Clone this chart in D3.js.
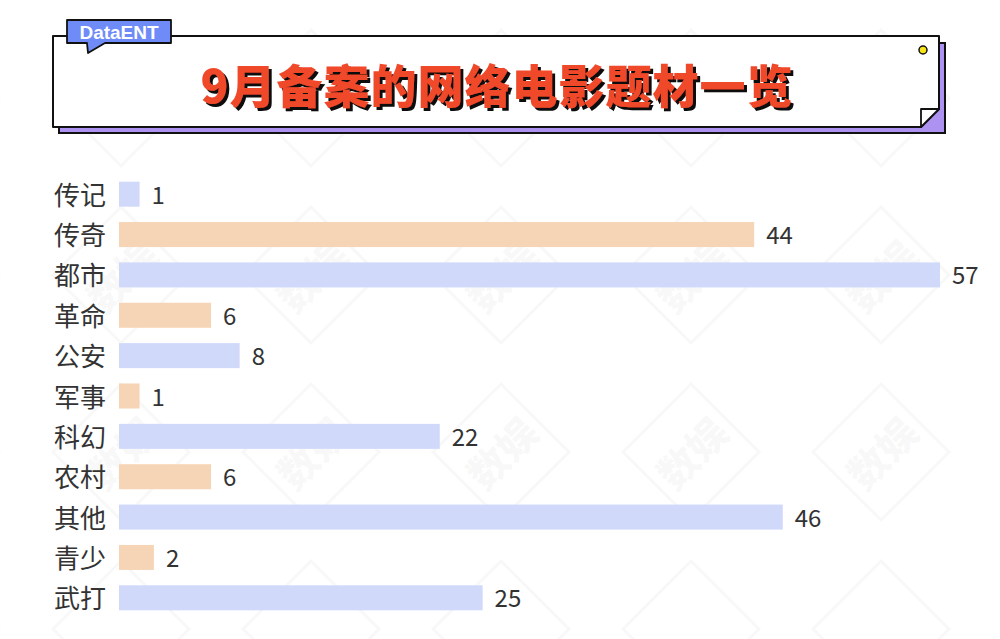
<!DOCTYPE html>
<html><head><meta charset="utf-8">
<script src="https://cdn.jsdelivr.net/npm/d3@7/dist/d3.min.js"></script>
<style>html,body{margin:0;padding:0;background:#fff;}svg{display:block;}</style>
</head><body>
<svg id="c" width="1000" height="639"></svg>
<script>
const categories = ["传记","传奇","都市","革命","公安","军事","科幻","农村","其他","青少","武打"];
const values = [1,44,57,6,8,1,22,6,46,2,25];
const titleText = "9月备案的网络电影题材一览";
const tagText = "DataENT";
const barColors = ["#d1d9fb","#f6d5b6"];
const watermarkText = "数娱";

const svg = d3.select("#c");
const FONT = "'Noto Sans CJK SC','Noto Sans',sans-serif";

const defs = svg.append("defs");
const f = defs.append("filter").attr("id","tshadow").attr("x","-5%").attr("y","-20%").attr("width","110%").attr("height","150%");
f.append("feOffset").attr("in","SourceAlpha").attr("dx",3).attr("dy",3).attr("result","off");
f.append("feFlood").attr("flood-color","#111").attr("result","fl");
f.append("feComposite").attr("in","fl").attr("in2","off").attr("operator","in").attr("result","sh");
const m = f.append("feMerge");
m.append("feMergeNode").attr("in","sh");
m.append("feMergeNode").attr("in","SourceGraphic");

// ---- watermark (behind) ----
const wm = svg.append("g").attr("pointer-events","none");
const cols = [-69,121,311,501,691,881,1071];
const rows = [98,275,452,629];
rows.forEach(cy=>cols.forEach(cx=>{
  const t = wm.append("g").attr("transform",`translate(${cx},${cy})`);
  t.append("path").attr("d","M0,-68 L68,0 L0,68 L-68,0 Z").attr("fill","none")
    .attr("stroke","#999").attr("stroke-opacity",0.07).attr("stroke-width",3);
  if (cx > 0 && cx < 1000 && cy > 150 && cy < 600) {
    t.append("text").attr("transform","rotate(-45)").attr("text-anchor","middle")
      .attr("dominant-baseline","central").attr("font-family",FONT).attr("font-weight",900)
      .attr("font-size",40).attr("fill","#999").attr("fill-opacity",0.06).text(watermarkText);
  }
}));

// ---- header ----
const hdr = svg.append("g");
hdr.append("rect").attr("x",59).attr("y",43).attr("width",886).attr("height",90)
  .attr("fill","#ad92f1").attr("stroke","#111").attr("stroke-width",2);
hdr.append("path").attr("d","M53,36 H939 V109 L921,127 H53 Z")
  .attr("fill","#fff").attr("stroke","#111").attr("stroke-width",2).attr("stroke-linejoin","round");
hdr.append("path").attr("d","M921,109 H939 L921,127 Z")
  .attr("fill","#fff").attr("stroke","#111").attr("stroke-width",1.8).attr("stroke-linejoin","round");
hdr.append("circle").attr("cx",923).attr("cy",50).attr("r",4)
  .attr("fill","#f7e41a").attr("stroke","#111").attr("stroke-width",1.5);

// tag
hdr.append("path").attr("d","M67,20 H171 V43 H105 L88,53 L87,43 H67 Z")
  .attr("fill","#6f8bf8").attr("stroke","#111").attr("stroke-width",1.8).attr("stroke-linejoin","round");
hdr.append("text").attr("x",119).attr("y",32).attr("text-anchor","middle")
  .attr("dominant-baseline","central").attr("fill","#fff")
  .attr("font-family","'Liberation Sans',Arial,sans-serif").attr("font-weight","bold")
  .attr("font-size",19).text(tagText);

// title with shadow
hdr.append("text").attr("x",497).attr("y",83).attr("text-anchor","middle")
  .attr("dominant-baseline","central").attr("fill","#f04a2c")
  .attr("font-family",FONT).attr("font-weight",900).attr("font-size",46)
  .attr("letter-spacing",1).attr("filter","url(#tshadow)").text(titleText);

// ---- bars ----
const barBase = 119;
const x = d3.scaleLinear().domain([0,57]).range([125.3,940]);
const y = d3.scaleBand().domain(categories).range([174,618]).paddingInner(0.38).paddingOuter(0.19);

const g = svg.append("g");
g.selectAll("rect.bar").data(categories).join("rect").attr("class","bar")
  .attr("x",barBase).attr("y",d=>y(d))
  .attr("width",(d,i)=>x(values[i])-barBase).attr("height",y.bandwidth())
  .attr("fill",(d,i)=>barColors[i%2]);

g.selectAll("text.cat").data(categories).join("text").attr("class","cat")
  .attr("x",106).attr("y",d=>y(d)+y.bandwidth()/2-1)
  .attr("text-anchor","end").attr("dominant-baseline","central")
  .attr("font-family",FONT).attr("font-size",26).attr("fill","#333").text(d=>d);

g.selectAll("text.val").data(categories).join("text").attr("class","val")
  .attr("x",(d,i)=>x(values[i])+12).attr("y",d=>y(d)+y.bandwidth()/2-1)
  .attr("dominant-baseline","central")
  .attr("font-family",FONT).attr("font-size",24).attr("fill","#333").text((d,i)=>values[i]);
</script>
</body></html>
